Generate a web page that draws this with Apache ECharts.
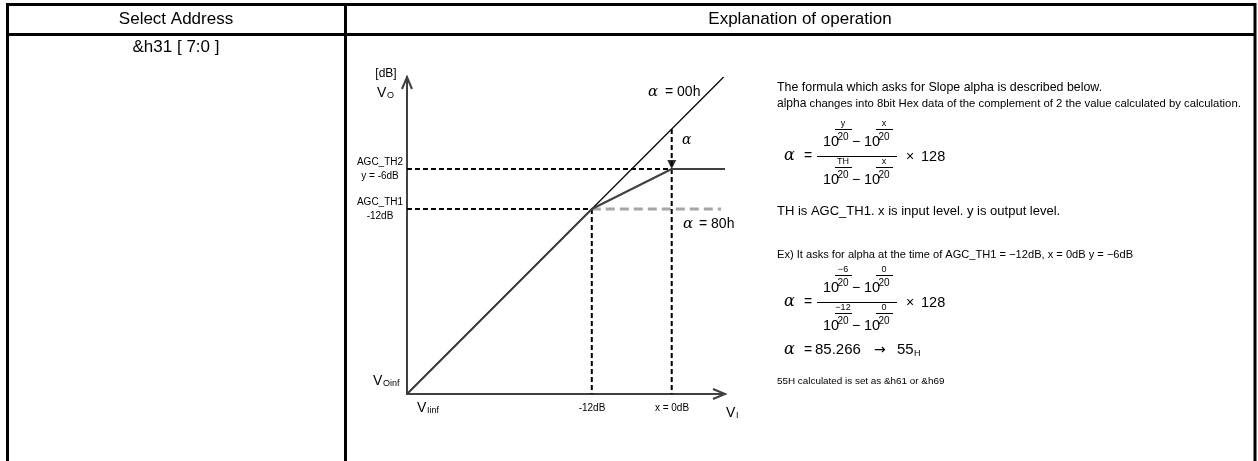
<!DOCTYPE html>
<html><head><meta charset="utf-8">
<script src="https://cdn.jsdelivr.net/npm/echarts@6/dist/echarts.min.js"></script>
<style>html,body{margin:0;padding:0;background:#fff}#c{width:1258px;height:461px}</style>
</head><body><div id="c"></div>
<script>
// ---- data (dB) ----
const xRange = [-39.75, 8];
const yRange = [-39.75, 7.8];
const unityLine = [[-39.75, -39.75], [7.8, 7.8]];          // alpha = 00h
const agcCurve = [[-39.75, -39.75], [-12, -12], [0, -6], [8, -6]];
const alpha80Line = [[-12, -12], [7.4, -12]];               // alpha = 80h
const th2Line = [[-39.75, -6], [0, -6]];
const th1Line = [[-39.75, -12], [-12, -12]];
const th1Drop = [[-12, -12], [-12, -39.75]];
const xZeroDrop = [[0, 0], [0, -39.75]];
const alphaArrowTip = [[0, -6]];
const headers = ['Select Address', 'Explanation of operation'];
const addressText = '&h31 [ 7:0 ]';

const chart = echarts.init(document.getElementById('c'), null, {renderer: 'canvas'});
const SANS = 'Liberation Sans, Arial, sans-serif';
const DARK = '#404040';

function seg(name, data, color, width, type) {
  return {name, type: 'line', data, symbol: 'none', silent: true, animation: false,
    lineStyle: {color, width, type: type || 'solid'}, z: 2};
}
function axis(r) {
  return {type: 'value', min: r[0], max: r[1],
    axisLine: {show: true, onZero: false, lineStyle: {color: DARK, width: 2}},
    axisTick: {show: false}, axisLabel: {show: false}, splitLine: {show: false}};
}

const option = {
  animation: false,
  grid: {left: 407, top: 77, width: 318, height: 317},
  xAxis: axis(xRange),
  yAxis: axis(yRange),
  series: [
    seg('alpha80', alpha80Line, '#a6a6a6', 3, [9, 5]),
    seg('th2', th2Line, '#000', 2, [5, 3]),
    seg('th1', th1Line, '#000', 2, [5, 3]),
    seg('drop12', th1Drop, '#000', 2, [5, 3]),
    seg('drop0', xZeroDrop, '#000', 2, [5, 3]),
    seg('unity', unityLine, '#000', 1.2),
    seg('curve', agcCurve, DARK, 2),
    {name: 'arrow', type: 'scatter', data: alphaArrowTip, symbol: 'triangle', symbolSize: [9, 9],
      symbolRotate: 180, symbolOffset: [0, -4.5], itemStyle: {color: '#000'}, silent: true, z: 3}
  ]
};
chart.setOption(option);

// ---- decorations & text ----
const g = [];
function line(x1, y1, x2, y2, w, c) {
  g.push({type: 'line', shape: {x1, y1, x2, y2}, style: {stroke: c || '#000', lineWidth: w || 1}, silent: true});
}
function txt(x, y, text, size, opt) {
  opt = opt || {};
  g.push({type: 'text', x, y, silent: true, style: {text, fill: opt.fill || '#000',
    font: (opt.style || '') + ' ' + size + 'px ' + (opt.family || SANS),
    textAlign: opt.align || 'left', textVerticalAlign: 'middle'}});
}
// table
line(7, 4.5, 1256, 4.5, 3);
line(7, 34.5, 1256, 34.5, 3);
line(7.5, 3, 7.5, 461, 3);
line(1255, 3, 1255, 461, 3);
line(345.5, 3, 345.5, 461, 3);
txt(176, 19, headers[0], 17, {align: 'center'});
txt(800, 19, headers[1], 17, {align: 'center'});
txt(176, 47, addressText, 17, {align: 'center'});

// axis arrowheads from axis extents
const xe = chart.convertToPixel({gridIndex: 0}, [xRange[1], yRange[0]]);
const ye = chart.convertToPixel({gridIndex: 0}, [xRange[0], yRange[1]]);
g.push({type: 'polyline', shape: {points: [[xe[0] - 12, xe[1] - 5], [xe[0], xe[1]], [xe[0] - 12, xe[1] + 5]]}, style: {stroke: DARK, lineWidth: 2, fill: null}, silent: true});
g.push({type: 'polyline', shape: {points: [[ye[0] - 5, ye[1] + 12], [ye[0], ye[1]], [ye[0] + 5, ye[1] + 12]]}, style: {stroke: DARK, lineWidth: 2, fill: null}, silent: true});

const ALPHA = {style: 'italic', family: 'DejaVu Serif, serif'};
// chart labels
txt(386, 74, '[dB]', 12, {align: 'center'});
txt(377, 93, 'V', 14); txt(387, 96, 'O', 9);
txt(648, 92, 'α', 15, ALPHA); txt(665, 92, '= 00h', 14);
txt(682, 140, 'α', 14, ALPHA);
txt(380, 162, 'AGC_TH2', 10, {align: 'center'});
txt(380, 176, 'y = -6dB', 10, {align: 'center'});
txt(380, 202, 'AGC_TH1', 10, {align: 'center'});
txt(380, 216, '-12dB', 10, {align: 'center'});
txt(683, 224, 'α', 15, ALPHA); txt(699, 224, '= 80h', 14);
txt(373, 381, 'V', 14); txt(383, 384, 'Oinf', 9);
txt(417, 408, 'V', 14); txt(427, 411, 'Iinf', 9);
txt(592, 408, '-12dB', 10, {align: 'center'});
txt(672, 408, 'x = 0dB', 10, {align: 'center'});
txt(726, 413, 'V', 14); txt(736, 416, 'I', 9);

// right explanation text
const RX = 777;
txt(RX, 88, 'The formula which asks for Slope alpha is described below.', 12.4);
g.push({type: 'text', x: RX, y: 104, silent: true, style: {text: '{a|alpha}{b| changes into 8bit Hex data of the complement of 2 the value calculated by calculation.}', textVerticalAlign: 'middle',
  rich: {a: {font: '12px ' + SANS, fill: '#000'}, b: {font: '11.35px ' + SANS, fill: '#000'}}}});

function term(x, yc, expTop) {
  // "10" with superscript fraction expTop/20
  txt(x, yc, '10', 14.5);
  txt(x + 20, yc - 5, '20', 10, {align: 'center'});
  line(x + 12, yc - 12.5, x + 29, yc - 12.5, 1);
  txt(x + 20, yc - 18, expTop, 9, {align: 'center'});
}
function fraction(yBar, n1, n2, d1, d2) {
  txt(784, yBar, 'α', 16, ALPHA);
  txt(804, yBar, '=', 14);
  term(823, yBar - 14, n1); txt(852, yBar - 14, '−', 14); term(864, yBar - 14, n2);
  line(817, yBar + 0.5, 897, yBar + 0.5, 1);
  term(823, yBar + 24, d1); txt(852, yBar + 24, '−', 14); term(864, yBar + 24, d2);
  txt(906, yBar + 1, '×', 14);
  txt(921, yBar + 1, '128', 14.5);
}
fraction(156, 'y', 'x', 'TH', 'x');
txt(RX, 211, 'TH is AGC_TH1. x is input level. y is output level.', 13);
txt(RX, 255, 'Ex) It asks for alpha at the time of AGC_TH1 = −12dB, x = 0dB y = −6dB', 11.1);
fraction(302, '−6', '0', '−12', '0');
txt(784, 350, 'α', 16, ALPHA);
txt(804, 350, '=', 14);
txt(815, 350, '85.266', 15);
txt(874, 350, '→', 14, {family: 'DejaVu Sans, sans-serif'});
txt(897, 350, '55', 15);
txt(914, 354, 'H', 9);
txt(RX, 381, '55H calculated is set as &h61 or &h69', 9.9);

chart.setOption({graphic: g});
</script></body></html>
